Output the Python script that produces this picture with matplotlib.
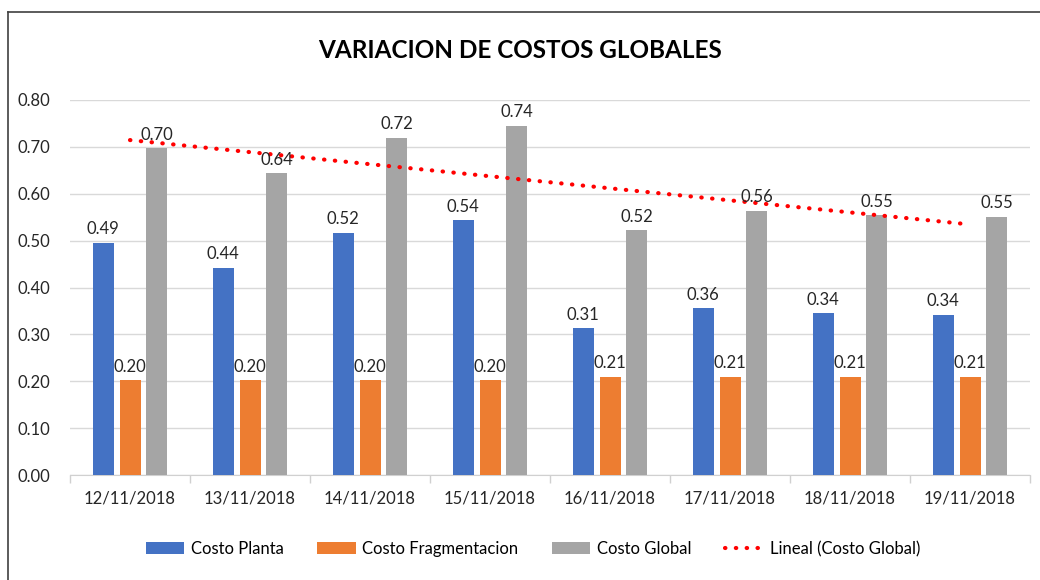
import numpy as np
import matplotlib
matplotlib.use("Agg")
import matplotlib.pyplot as plt
from matplotlib.lines import Line2D

categories = ["12/11/2018", "13/11/2018", "14/11/2018", "15/11/2018",
              "16/11/2018", "17/11/2018", "18/11/2018", "19/11/2018"]
costo_planta = [0.495, 0.442, 0.517, 0.543, 0.313, 0.356, 0.345, 0.342]
costo_frag = [0.202, 0.202, 0.202, 0.202, 0.209, 0.209, 0.209, 0.209]
costo_global = [0.697, 0.644, 0.719, 0.745, 0.522, 0.564, 0.554, 0.551]
yticks = [0.0, 0.1, 0.2, 0.3, 0.4, 0.5, 0.6, 0.7, 0.8]

plt.rcParams['font.family'] = ['Lato', 'DejaVu Sans']

fig = plt.figure(figsize=(10.4, 5.8), dpi=100)
ax = fig.add_axes([70/1040, 1-475/580, 960/1040, 375/580])

x = np.arange(len(categories))
w = 0.175
step = 0.222
colors = ['#4472C4', '#ED7D31', '#A5A5A5']
series = [costo_planta, costo_frag, costo_global]
names = ['Costo Planta', 'Costo Fragmentacion', 'Costo Global']
for i, (vals, c, n) in enumerate(zip(series, colors, names)):
    bars = ax.bar(x + (i-1)*step, vals, width=w, color=c, label=n, zorder=3)
    for b, v in zip(bars, vals):
        ax.annotate(f"{v:.2f}", (b.get_x()+b.get_width()/2, v),
                    xytext=(0, 4), textcoords='offset points',
                    ha='center', va='bottom', fontsize=12, color='#262626', zorder=5)

coef = np.polyfit(x, costo_global, 1)
trend = np.polyval(coef, x)
ax.plot(x, trend, color='#FF0000', lw=3.0, linestyle=(0, (0.1, 2.5)),
        dash_capstyle='round', label='Lineal (Costo Global)', zorder=4)

ax.set_xlim(-0.5, len(categories)-0.5)
ax.set_ylim(0, 0.8)
ax.set_yticks(yticks)
ax.set_yticklabels([f"{t:.2f}" for t in yticks], fontsize=12, color='#262626')
ax.set_xticks(x)
ax.set_xticklabels(categories, fontsize=12, color='#262626')
ax.set_xticks(np.arange(-0.5, len(categories), 1.0), minor=True)
ax.tick_params(axis='x', which='major', length=0, pad=11)
ax.tick_params(axis='x', which='minor', length=6, color='#D0D0D0', width=1)
ax.tick_params(axis='y', length=0, pad=14)
ax.yaxis.grid(True, color='#D9D9D9', lw=1, zorder=0)
ax.set_axisbelow(True)
for s in ['left', 'right', 'top']:
    ax.spines[s].set_visible(False)
ax.spines['bottom'].set_color('#D0D0D0')

fig.text(0.5, 1-50/580, "VARIACION DE COSTOS GLOBALES", ha='center', va='center',
         fontsize=17.5, fontweight='bold', color='#000000')

handles, labels = ax.get_legend_handles_labels()
order = [1, 2, 3, 0]
fig.legend([handles[k] for k in order], [labels[k] for k in order],
           loc='center', bbox_to_anchor=(533/1040, 1-549/580), ncol=4,
           frameon=False, fontsize=12, handlelength=2.3, handleheight=0.7,
           columnspacing=2.0, handletextpad=0.4)

fig.add_artist(Line2D([8/1040, 8/1040], [0, 1-12/580], transform=fig.transFigure,
                      color='#404040', lw=1.2))
fig.add_artist(Line2D([8/1040, 1], [1-12/580, 1-12/580], transform=fig.transFigure,
                      color='#404040', lw=1.2))

fig.savefig("out.png", dpi=100)
